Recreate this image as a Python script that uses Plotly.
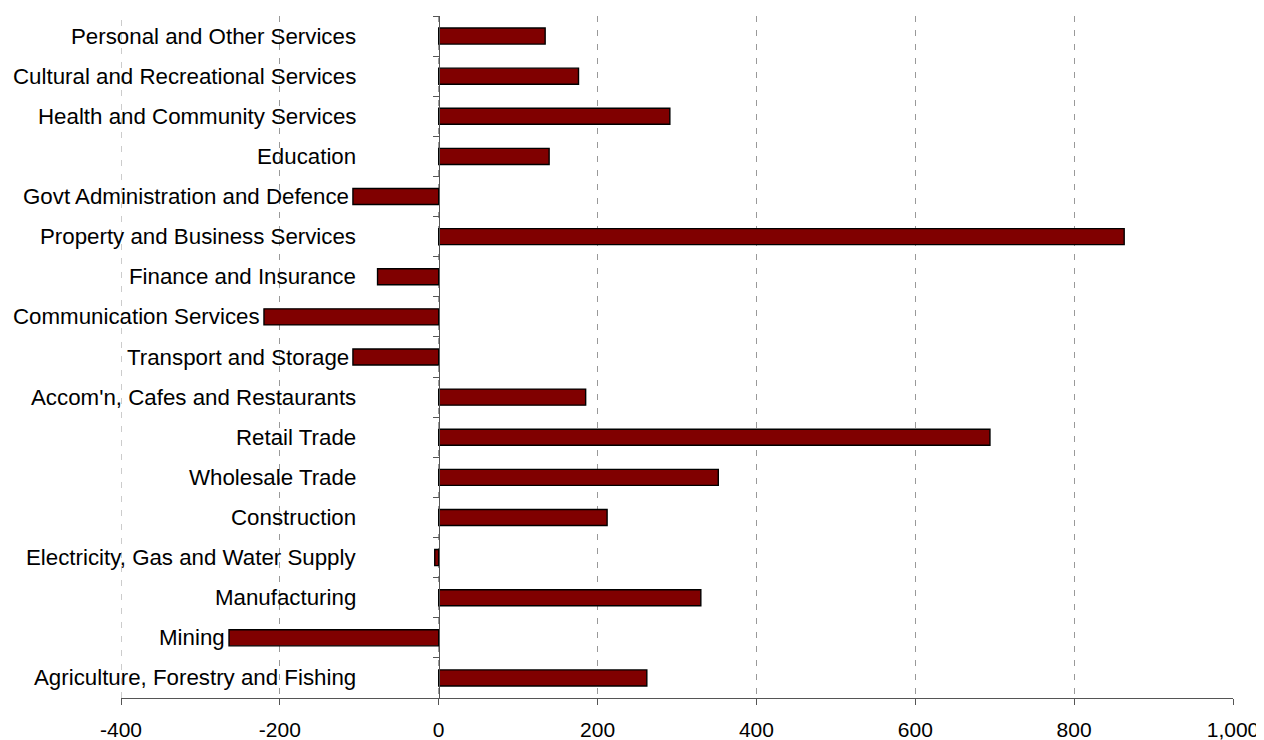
import plotly.graph_objects as go

categories = [
    "Agriculture, Forestry and Fishing",
    "Mining",
    "Manufacturing",
    "Electricity, Gas and Water Supply",
    "Construction",
    "Wholesale Trade",
    "Retail Trade",
    "Accom'n, Cafes and Restaurants",
    "Transport and Storage",
    "Communication Services",
    "Finance and Insurance",
    "Property and Business Services",
    "Govt Administration and Defence",
    "Education",
    "Health and Community Services",
    "Cultural and Recreational Services",
    "Personal and Other Services",
]
values = [262, -264, 330, -5, 212, 352, 694, 185, -108, -220, -77, 863, -108, 139, 291, 176, 134]

x_ticks = [-400, -200, 0, 200, 400, 600, 800, 1000]
x_tick_labels = [f"{v:,}" for v in x_ticks]
x_min, x_max = -400, 1000

# category labels sit left of the axis, pushed further left when a bar would cover them
LABEL_EDGE = -98.5

fig = go.Figure()
fig.add_trace(go.Bar(
    x=values,
    y=categories,
    orientation="h",
    marker=dict(color="#800000", line=dict(color="#000000", width=1.4)),
    width=0.4,
))

for cat, v in zip(categories, values):
    fig.add_annotation(
        x=min(LABEL_EDGE, v),
        y=cat,
        xref="x",
        yref="y",
        text=cat,
        showarrow=False,
        xanchor="right",
        yanchor="middle",
        xshift=-2,
        font=dict(size=22.3, color="#000000"),
    )

# dashed gridline at the left edge of the plot (plotly omits the edge gridline)
fig.add_shape(
    type="line",
    xref="x", yref="paper",
    x0=x_min, x1=x_min, y0=0, y1=1,
    line=dict(color="#999999", width=1, dash="6px,8px"),
    layer="below",
)

fig.update_layout(
    width=1256,
    height=732,
    margin=dict(l=113, r=31, t=8, b=42),
    paper_bgcolor="white",
    plot_bgcolor="white",
    font=dict(family="Liberation Sans, Arial, sans-serif", size=21, color="#000000"),
    showlegend=False,
    bargap=0.6,
)

fig.update_xaxes(
    range=[x_min, x_max],
    tickvals=x_ticks,
    ticktext=x_tick_labels,
    showgrid=True,
    gridcolor="#999999",
    griddash="6px,8px",
    gridwidth=1,
    zeroline=False,
    showline=True,
    linecolor="#555555",
    linewidth=1,
    ticks="outside",
    ticklen=6,
    tickcolor="#555555",
    ticklabelstandoff=7,
    tickfont=dict(size=21),
    automargin=False,
)

fig.update_yaxes(
    type="category",
    categoryorder="array",
    categoryarray=categories,
    anchor="free",
    position=(0 - x_min) / (x_max - x_min),
    showgrid=False,
    zeroline=False,
    showline=True,
    linecolor="#555555",
    linewidth=1,
    ticks="outside",
    tickson="boundaries",
    ticklen=6,
    tickcolor="#555555",
    showticklabels=False,
    automargin=False,
)

fig.write_html("out.html")
